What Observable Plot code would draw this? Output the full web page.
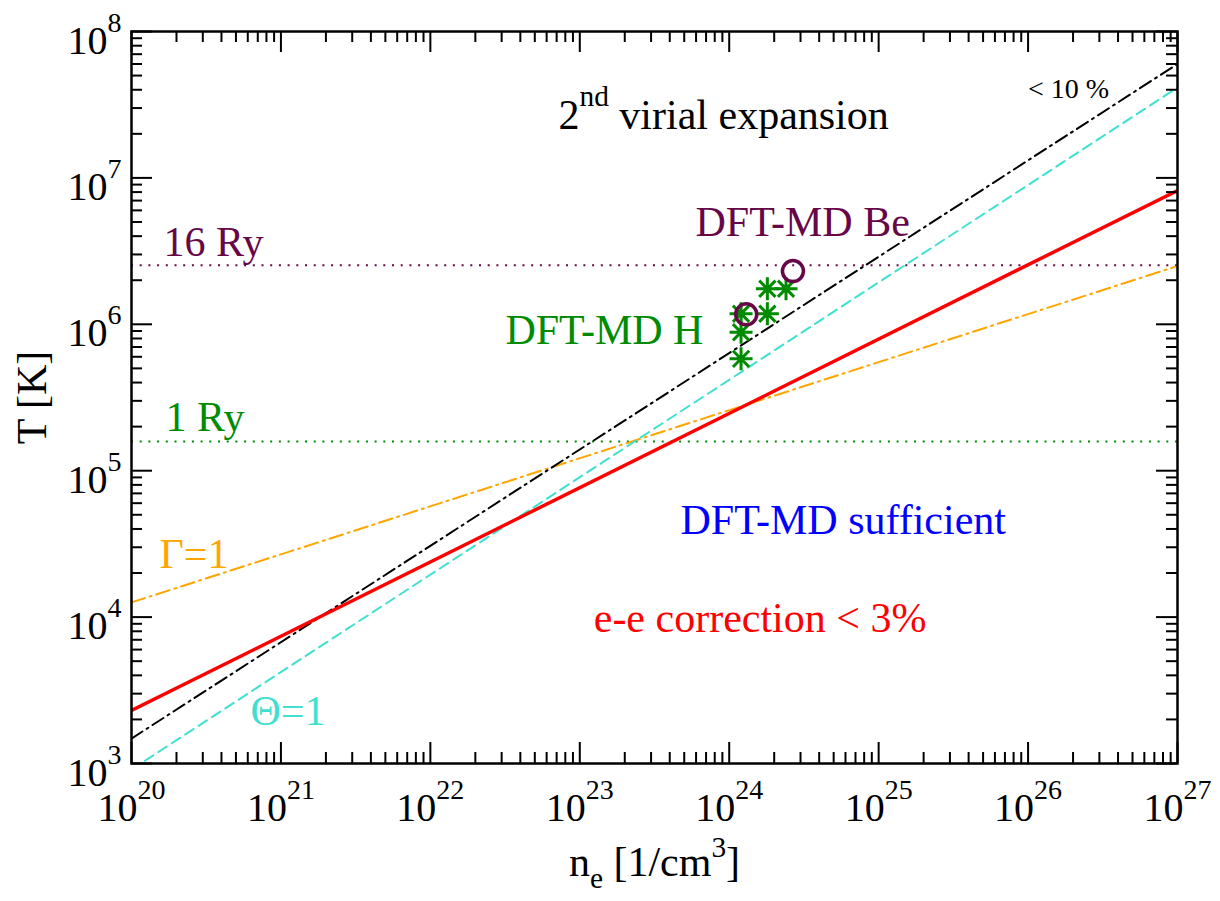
<!DOCTYPE html>
<html><head><meta charset="utf-8">
<script src="https://cdn.jsdelivr.net/npm/d3@7"></script>
<script src="https://cdn.jsdelivr.net/npm/@observablehq/plot@0.6"></script>
<style>
html,body{margin:0;padding:0;background:#fff;}
#chart svg{display:block;}
</style>
</head><body><div id="chart"></div>
<script>
// ---------------- data ----------------
// straight lines on log-log axes, given by their values at the two ends of the density range
const lineDensity   = [1e20, 1e27];          // n_e [1/cm^3]
const eeCorrection3 = [2300, 8.2e6];         // e-e correction < 3%  (red, solid)
const virial10      = [1480, 6.0e7];         // 2nd virial expansion < 10 % (black, dash-dot)
const theta1        = [910, 4.14e7];         // Θ=1 (turquoise, dashed)
const gamma1        = [1.26e4, 2.5e6];       // Γ=1 (orange, dash-dot)
const ry16Temp      = [2.53e6];              // 16 Ry (maroon, dotted)
const ry1Temp       = [1.58e5];              // 1 Ry (green, dotted)

// DFT-MD simulation points
const hDensity  = [1.2e24, 1.2e24, 1.2e24, 1.8e24, 2.4e24, 1.8e24];
const hTemp     = [1.18e6, 8.83e5, 5.81e5, 1.75e6, 1.75e6, 1.18e6];
const beDensity = [1.3e24, 2.67e24];
const beTemp    = [1.17e6, 2.31e6];

// axis ticks (decade exponents)
const xTickExponents = [20, 21, 22, 23, 24, 25, 26, 27];
const yTickExponents = [3, 4, 5, 6, 7, 8];
const minorMultipliers = [2, 3, 4, 5, 6, 7, 8, 9];

// ---------------- layout / styles ----------------
const W = 1220, H = 901;
const mL = 131, mR = 43, mT = 31, mB = 138;
const fW = W - mL - mR, fH = H - mT - mB;
const serif = "'Liberation Serif', 'Times New Roman', Times, serif";
const maroon = "rgb(103,7,72)";
const green = "rgb(0,139,0)";
const turquoise = "rgb(64,224,208)";
const orange = "rgb(255,165,0)";
const red = "rgb(255,0,0)";
const blue = "rgb(0,0,255)";

const pairs = (xs, ys) => xs.map((n, i) => ({n, T: ys[i]}));
const xMajor = xTickExponents.map(e => 10 ** e);
const yMajor = yTickExponents.map(e => 10 ** e);
const xMinor = xTickExponents.slice(0, -1).flatMap(e => minorMultipliers.map(m => m * 10 ** e));
const yMinor = yTickExponents.slice(0, -1).flatMap(e => minorMultipliers.map(m => m * 10 ** e));

// 8-arm asterisk symbol
const asterisk8 = {
  draw(context, size) {
    const r = Math.sqrt(size / Math.PI);
    const d = r * Math.SQRT1_2;
    context.moveTo(-r, 0); context.lineTo(r, 0);
    context.moveTo(0, -r); context.lineTo(0, r);
    context.moveTo(-d, -d); context.lineTo(d, d);
    context.moveTo(-d, d); context.lineTo(d, -d);
  }
};

const label = (text, n, T, fill, fontSize = 42, opts = {}) =>
  Plot.text([text], {x: n, y: T, text: d => d, fill, fontSize, textAnchor: "start", lineAnchor: "bottom", ...opts});

const chart = Plot.plot({
  width: W, height: H,
  marginLeft: mL, marginRight: mR, marginTop: mT, marginBottom: mB,
  style: {fontFamily: serif, background: "white", overflow: "visible"},
  x: {type: "log", domain: [1e20, 1e27], axis: null},
  y: {type: "log", domain: [1e3, 1e8], axis: null},
  marks: [
    Plot.ruleY(ry16Temp, {y: d => d, stroke: maroon, strokeWidth: 2, strokeDasharray: "2,6.7"}),
    Plot.ruleY(ry1Temp, {y: d => d, stroke: green, strokeWidth: 2, strokeDasharray: "2,6.7"}),
    Plot.line(pairs(lineDensity, gamma1), {x: "n", y: "T", stroke: orange, strokeWidth: 2, strokeDasharray: "14,5,2,5", clip: true}),
    Plot.line(pairs(lineDensity, theta1), {x: "n", y: "T", stroke: turquoise, strokeWidth: 2, strokeDasharray: "10,6", clip: true}),
    Plot.line(pairs(lineDensity, virial10), {x: "n", y: "T", stroke: "black", strokeWidth: 2, strokeDasharray: "13,5,2,5", clip: true}),
    Plot.line(pairs(lineDensity, eeCorrection3), {x: "n", y: "T", stroke: red, strokeWidth: 3.5, clip: true}),
    Plot.dot(pairs(hDensity, hTemp), {x: "n", y: "T", r: 11.5, symbol: asterisk8, fill: "none", stroke: green, strokeWidth: 3}),
    Plot.dot(pairs(beDensity, beTemp), {x: "n", y: "T", r: 10.5, fill: "none", stroke: maroon, strokeWidth: 3.5}),

    // annotations
    label("2^{nd} virial expansion", 7.2e22, 2.17e7, "black"),
    label("< 10 %", 1.0e26, 3.54e7, "black", 28),
    label("DFT-MD Be", 5.95e23, 4.04e6, maroon),
    label("16 Ry", 1.64e20, 2.95e6, maroon),
    label("DFT-MD H", 3.18e22, 7.39e5, green),
    label("1 Ry", 1.69e20, 1.88e5, green),
    label("DFT-MD sufficient", 4.72e23, 3.72e4, blue),
    label("Γ=1", 1.54e20, 2.15e4, orange),
    label("e-e correction < 3%", 1.24e23, 7.85e3, red),
    label("Θ=1", 6.25e20, 1.82e3, turquoise),

    // inside ticks on all four sides
    Plot.tickX(xMajor, {x: d => d, insetTop: fH - 21, stroke: "black", strokeWidth: 2}),
    Plot.tickX(xMajor, {x: d => d, insetBottom: fH - 21, stroke: "black", strokeWidth: 2}),
    Plot.tickX(xMinor, {x: d => d, insetTop: fH - 11, stroke: "black", strokeWidth: 2}),
    Plot.tickX(xMinor, {x: d => d, insetBottom: fH - 11, stroke: "black", strokeWidth: 2}),
    Plot.tickY(yMajor, {y: d => d, insetRight: fW - 21, stroke: "black", strokeWidth: 2}),
    Plot.tickY(yMajor, {y: d => d, insetLeft: fW - 21, stroke: "black", strokeWidth: 2}),
    Plot.tickY(yMinor, {y: d => d, insetRight: fW - 11, stroke: "black", strokeWidth: 2}),
    Plot.tickY(yMinor, {y: d => d, insetLeft: fW - 11, stroke: "black", strokeWidth: 2}),
    Plot.frame({stroke: "black", strokeWidth: 2.5}),

    // tick labels
    Plot.text(xMajor, {x: d => d, frameAnchor: "bottom", text: d => `10^{${Math.round(Math.log10(d))}}`,
      textAnchor: "middle", lineAnchor: "bottom", dy: 57, fontSize: 40, fill: "black"}),
    Plot.text(yMajor, {y: d => d, frameAnchor: "left", text: d => `10^{${Math.round(Math.log10(d))}}`,
      textAnchor: "end", lineAnchor: "bottom", dx: -10, dy: 22, fontSize: 40, fill: "black"}),

    // axis titles
    Plot.text(["n_{e} [1/cm^{3}]"], {frameAnchor: "bottom", text: d => d, textAnchor: "middle", lineAnchor: "bottom", dy: 112, fontSize: 42, fill: "black"}),
    Plot.text(["T [K]"], {frameAnchor: "left", text: d => d, textAnchor: "middle", lineAnchor: "bottom", rotate: -90, dx: -86, fontSize: 42, fill: "black"})
  ]
});

document.getElementById("chart").appendChild(chart);

// turn ^{...} / _{...} markup into real superscript / subscript tspans
const NS = "http://www.w3.org/2000/svg";
chart.querySelectorAll("text").forEach(t => {
  const s = t.textContent;
  if (!/[\^_]\{/.test(s)) return;
  const fs = parseFloat(getComputedStyle(t).fontSize);
  const supShift = s.startsWith("n_{") ? 0.45 : 0.55;
  const parts = s.split(/(\^\{[^}]*\}|_\{[^}]*\})/).filter(p => p);
  t.textContent = "";
  let cur = 0;
  for (const p of parts) {
    let target = 0, txt = p, size = null;
    if (p.startsWith("^{")) { target = -supShift * fs; txt = p.slice(2, -1); size = 0.7 * fs; }
    else if (p.startsWith("_{")) { target = 0.3 * fs; txt = p.slice(2, -1); size = 0.7 * fs; }
    const ts = document.createElementNS(NS, "tspan");
    if (target !== cur) ts.setAttribute("dy", target - cur);
    cur = target;
    if (size) ts.setAttribute("font-size", size);
    ts.textContent = txt;
    t.appendChild(ts);
  }
});
</script>
</body></html>
